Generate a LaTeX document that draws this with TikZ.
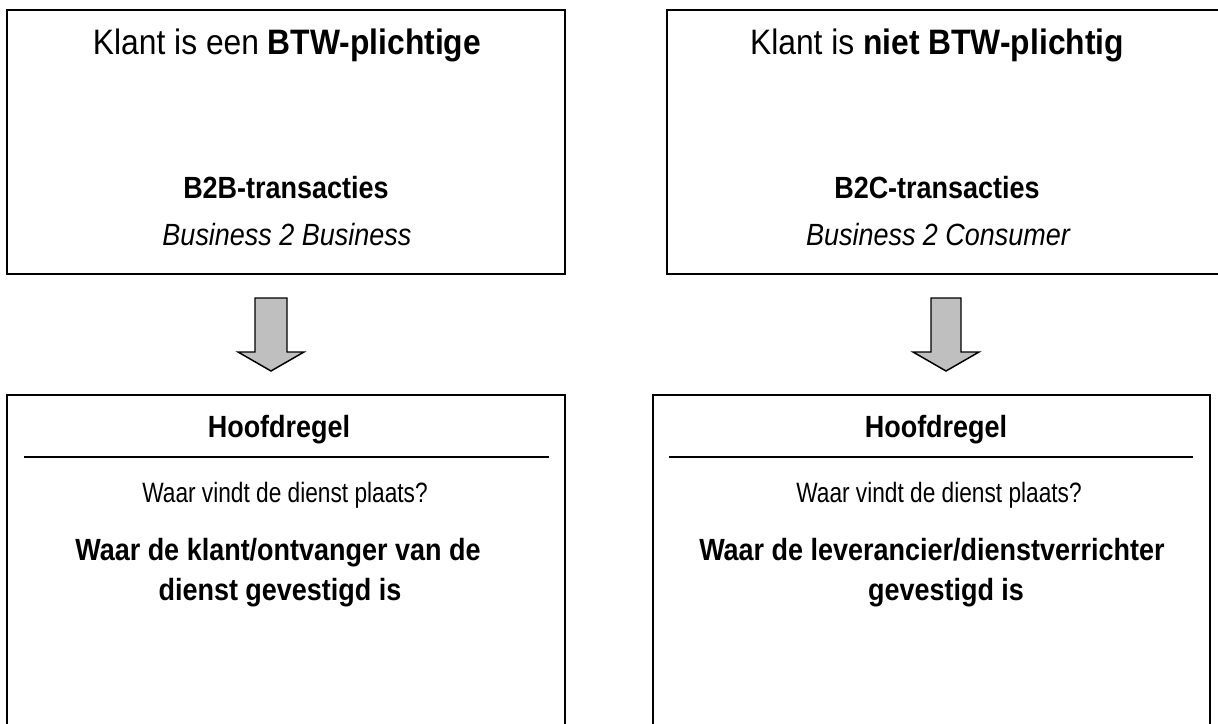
\documentclass[tikz,border=0pt]{standalone}
\usepackage{fontspec}
\setmainfont{Liberation Sans}[FakeStretch=0.88]
\newfontfamily\titlefont{Liberation Sans}[FakeStretch=0.9]
\newfontfamily\bodyfont{Liberation Sans}[FakeStretch=0.81]
\begin{document}
\begin{tikzpicture}[x=0.75pt,y=-0.75pt,
  box/.style={draw=black,line width=1.5pt,inner sep=0pt},
  rule/.style={draw=black,line width=1.6pt},
  bigarrow/.style={draw=black,line width=1.1pt,fill=gray!50,line join=miter},
  title/.style={anchor=base,inner sep=0pt,font=\titlefont\fontsize{26.5}{30}\selectfont},
  head/.style={anchor=base,inner sep=0pt,font=\bfseries\fontsize{23}{28}\selectfont},
  sub/.style={anchor=base,inner sep=0pt,font=\itshape\fontsize{23}{28}\selectfont},
  body/.style={anchor=base,inner sep=0pt,font=\bodyfont\fontsize{21}{24}\selectfont}]
\useasboundingbox (0,0) rectangle (1218,724);
% boxes
\draw[box] (7,10) rectangle (565,274);
\draw[box] (667,10) rectangle (1230,274);
\draw[box] (7,395) rectangle (565,740);
\draw[box] (653,395) rectangle (1210,740);
% top texts
\node[title] (t1) at (287,55) {Klant is een \textbf{BTW-plichtige}};
\node[title] (t2) at (937,55) {Klant is \textbf{niet BTW-plichtig}};
\node[head] (b1) at (286,198) {B2B-transacties};
\node[sub] (s1) at (287,245) {Business 2 Business};
\node[head] (b2) at (937,198) {B2C-transacties};
\node[sub] (s2) at (938,245) {Business 2 Consumer};
% arrows
\draw[bigarrow] (255,298) -- (287,298) -- (287,352) -- (304,352) -- (271,371) -- (238,352) -- (255,352) -- cycle;
\draw[bigarrow] (931,298) -- (961,298) -- (961,352) -- (979,352) -- (946,371) -- (913,352) -- (931,352) -- cycle;
% bottom texts
\node[head] (h1) at (279,437) {Hoofdregel};
\node[head] (h2) at (936,437) {Hoofdregel};
\coordinate (l1a) at (24,457);
\coordinate (l1b) at (549,457);
\coordinate (l2a) at (669,457);
\coordinate (l2b) at (1193,457);
\draw[rule] (l1a) -- (l1b);
\draw[rule] (l2a) -- (l2b);
\node[body] (q1) at (285,502) {Waar vindt de dienst plaats?};
\node[body] (q2) at (939,502) {Waar vindt de dienst plaats?};
\node[head] (a1) at (278,560) {Waar de klant/ontvanger van de};
\node[head] (a1b) at (280,600) {dienst gevestigd is};
\node[head] (a2) at (932,560) {Waar de leverancier/dienstverrichter};
\node[head] (a2b) at (946,600) {gevestigd is};
\end{tikzpicture}
\end{document}
